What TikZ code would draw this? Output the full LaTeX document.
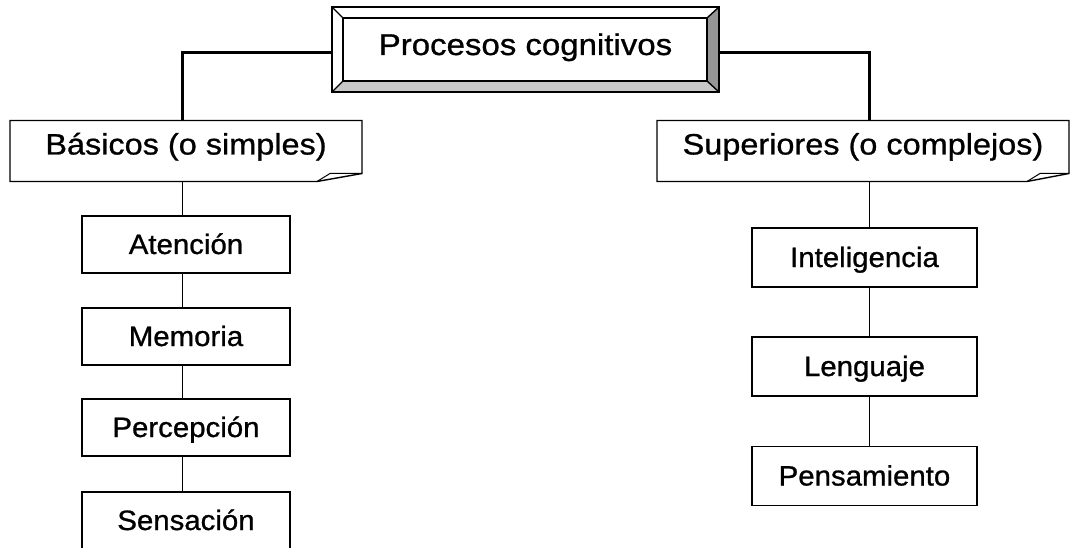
\documentclass[tikz,border=0pt]{standalone}
\usepackage{fontspec}
\newfontfamily\labfont[FakeStretch=1.1,FakeBold=0.9]{Liberation Sans}
\newfontfamily\leaffont[FakeStretch=1.05,FakeBold=0.9]{Liberation Sans}
\usetikzlibrary{calc}
\definecolor{bevR}{RGB}{150,150,150}
\definecolor{bevB}{RGB}{200,200,200}
\begin{document}
\begin{tikzpicture}[x=1pt,y=-1pt,
  every node/.style={inner sep=0pt, outer sep=0pt},
  boxline/.style={line width=1.4pt, line join=miter},
  topbox/.style={minimum width=387pt, minimum height=85pt, text height=11pt, text depth=0pt,
    font=\labfont\fontsize{30}{36}\selectfont},
  midbox/.style={minimum height=61pt, text height=7pt, text depth=0pt,
    font=\labfont\fontsize{29.5}{35}\selectfont},
  leaf/.style={draw, line width=1.3pt, minimum width=208pt, minimum height=57pt,
    text height=19pt, text depth=0pt, font=\leaffont\fontsize{28}{33}\selectfont},
  rleaf/.style={leaf, minimum width=225pt, minimum height=59pt},
  thickconn/.style={line width=3pt},
  thinconn/.style={line width=1pt}]
\fill[white] (0,0) rectangle (1071,548);
\clip (0,0) rectangle (1071,548);

% top box
\node[topbox] (top) at (525.5,49.5) {Procesos cognitivos};
\fill[bevR] (top.north east) -- ($(top.north east)+(-12,11)$) -- ($(top.south east)+(-12,-11)$) -- (top.south east) -- cycle;
\fill[bevB] (top.south west) -- ($(top.south west)+(11,-11)$) -- ($(top.south east)+(-12,-11)$) -- (top.south east) -- cycle;
\draw[boxline] (top.north west) rectangle (top.south east);
\draw[boxline] ($(top.north west)+(11,11)$) rectangle ($(top.south east)+(-12,-11)$);
\draw[boxline] (top.north west) -- ($(top.north west)+(11,11)$)
  (top.north east) -- ($(top.north east)+(-12,11)$)
  (top.south west) -- ($(top.south west)+(11,-11)$)
  (top.south east) -- ($(top.south east)+(-12,-11)$);

% second level
\node[midbox, minimum width=352pt] (bas) at (186,151) {Básicos (o simples)};
\draw[boxline] (bas.north west) -- (bas.north east) -- ($(bas.south east)+(0,-8)$)
  -- ($(bas.south east)+(-45,0)$) -- (bas.south west) -- cycle;
\draw[line width=1pt] ($(bas.south east)+(-45,0)$) -- ($(bas.south east)+(-32,-8)$) -- ($(bas.south east)+(0,-8)$);

\node[midbox, minimum width=412pt] (sup) at (863,151) {Superiores (o complejos)};
\draw[boxline] (sup.north west) -- (sup.north east) -- ($(sup.south east)+(0,-8)$)
  -- ($(sup.south east)+(-42,0)$) -- (sup.south west) -- cycle;
\draw[line width=1pt] ($(sup.south east)+(-42,0)$) -- ($(sup.south east)+(-29,-8)$) -- ($(sup.south east)+(0,-8)$);

% leaves
\node[leaf] (ate) at (186,244.5) {Atención};
\node[leaf] (mem) at (186,336.5) {Memoria};
\node[leaf] (per) at (186,427.5) {Percepción};
\node[leaf] (sen) at (186,520.5) {Sensación};

\node[rleaf] (int) at (864.5,257.5) {Inteligencia};
\node[rleaf] (len) at (864.5,366.5) {Lenguaje};
\node[rleaf] (pen) at (864.5,476) {Pensamiento};

\coordinate (lx) at (182,0);
\coordinate (rx) at (869,0);

\draw[thickconn] ($(top.west)+(0,3.5)$) -| (bas.north -| lx);
\draw[thickconn] ($(top.east)+(0,3.5)$) -| (sup.north -| rx);

\draw[thinconn] (bas.south -| lx) -- (ate.north -| lx);
\draw[thinconn] (ate.south -| lx) -- (mem.north -| lx);
\draw[thinconn] (mem.south -| lx) -- (per.north -| lx);
\draw[thinconn] (per.south -| lx) -- (sen.north -| lx);

\draw[thinconn] (sup.south -| rx) -- (int.north -| rx);
\draw[thinconn] (int.south -| rx) -- (len.north -| rx);
\draw[thinconn] (len.south -| rx) -- (pen.north -| rx);
\end{tikzpicture}
\end{document}
